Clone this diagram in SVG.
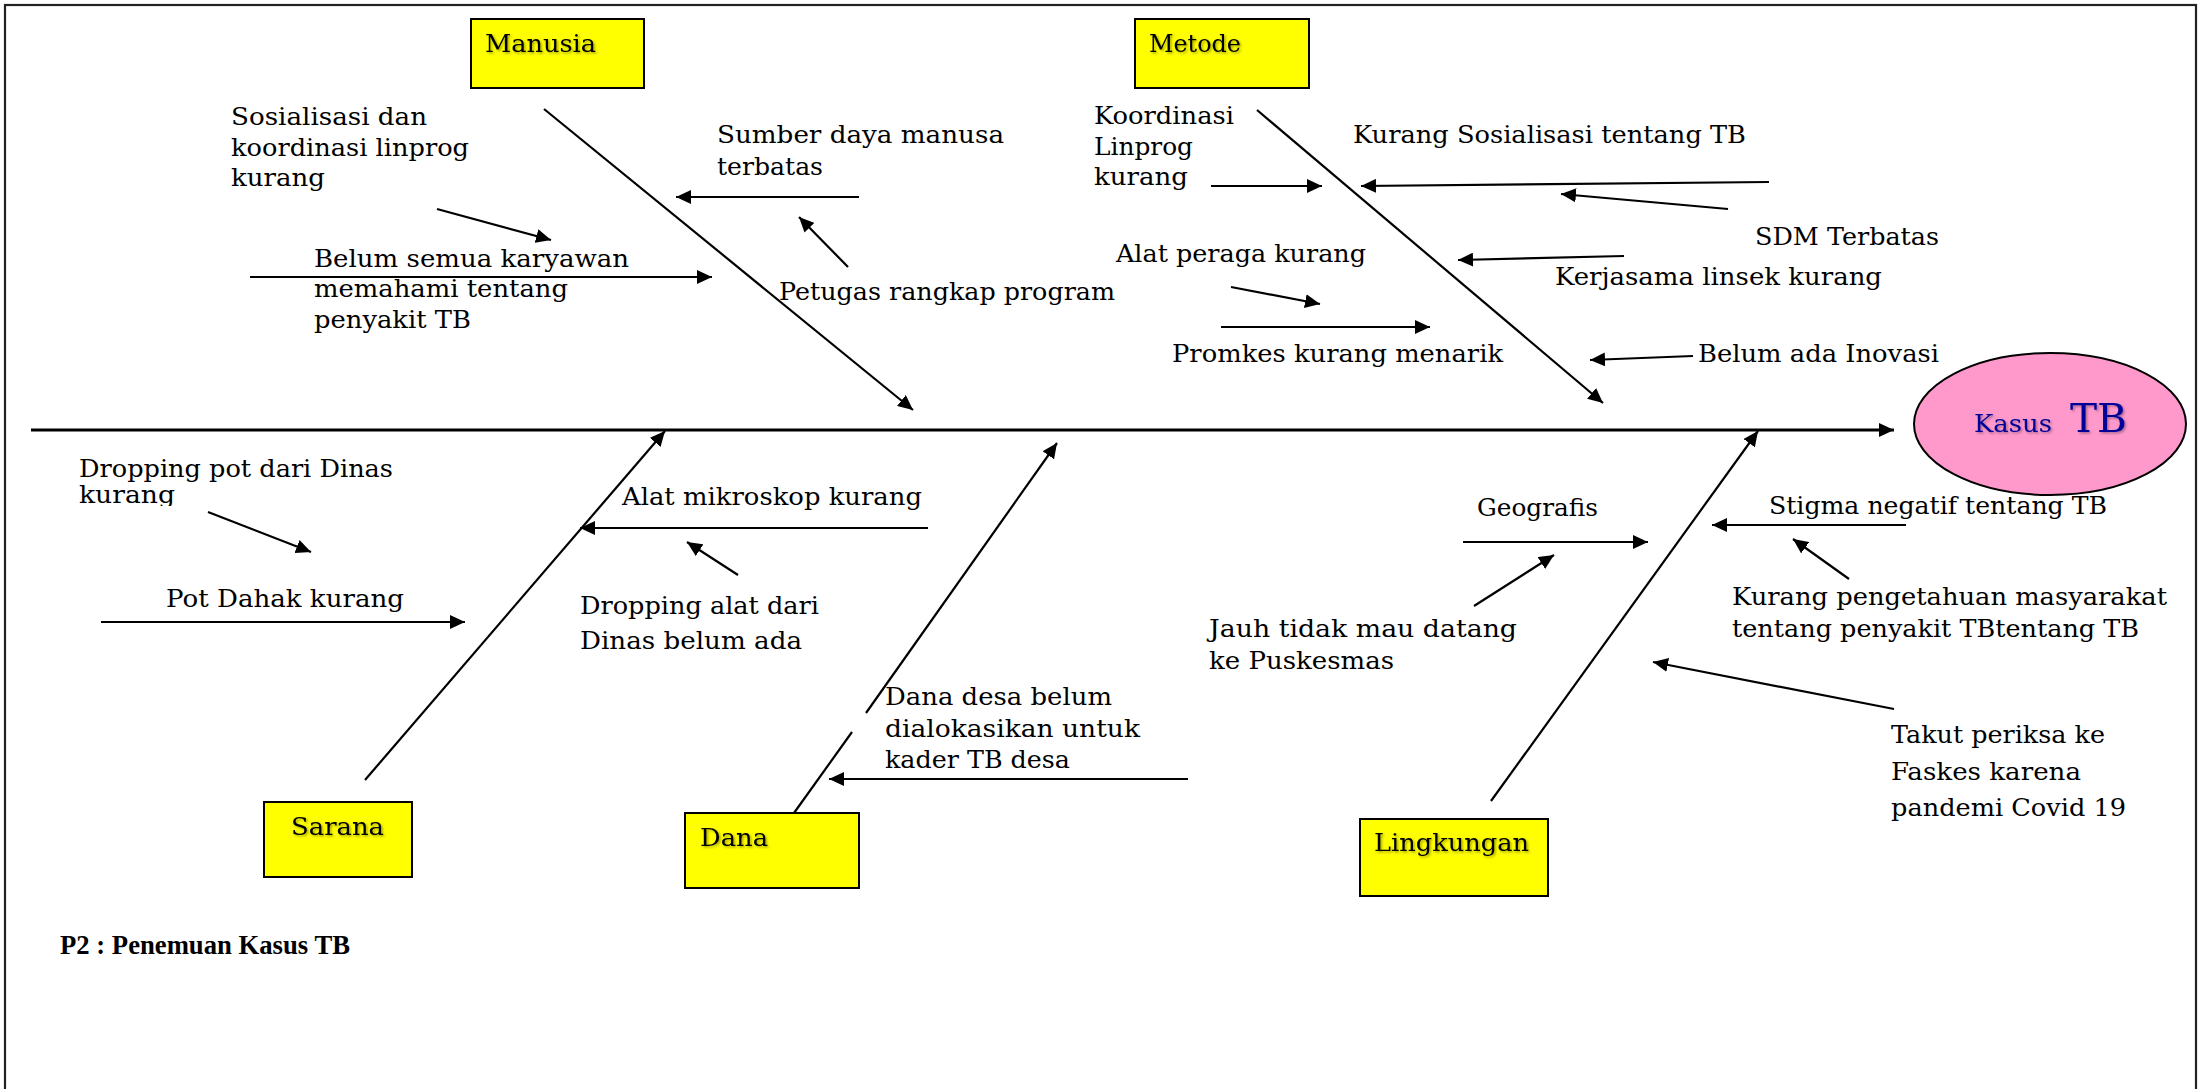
<svg xmlns="http://www.w3.org/2000/svg" width="2206" height="1089" viewBox="0 0 2206 1089">
<defs>
<style>
.t{font-family:"DejaVu Serif","Liberation Serif",serif;font-size:23.5px;fill:#000}
.lbl{font-family:"DejaVu Serif","Liberation Serif",serif;font-size:23.5px;fill:#000;filter:url(#sh)}
.box{fill:#FFFF00;stroke:#000;stroke-width:2}
.c{stroke:#000;stroke-width:2.2;fill:none}
.a{marker-end:url(#ah)}
.sp{stroke:#000;stroke-width:3;fill:none;marker-end:url(#ah)}
</style>
<marker id="ah" markerUnits="userSpaceOnUse" markerWidth="16" markerHeight="14" refX="15" refY="7" orient="auto">
<path d="M0,0 L15,7 L0,14 Z" fill="#000"/>
</marker>
<filter id="sh" x="-10%" y="-20%" width="130%" height="160%">
<feDropShadow dx="1.5" dy="1.5" stdDeviation="1" flood-color="#000" flood-opacity="0.35"/>
</filter>
<clipPath id="clipK"><rect x="60" y="480" width="200" height="26"/></clipPath>
</defs>
<rect x="0" y="0" width="2206" height="1089" fill="#fff"/>
<rect x="5" y="5" width="2191" height="1200" fill="none" stroke="#222" stroke-width="2.2"/>

<g id="connectors">
<line class="sp" x1="31" y1="430" x2="1894" y2="430"/>
<line class="c a" x1="544" y1="109" x2="913" y2="410"/>
<line class="c a" x1="1257" y1="110" x2="1603" y2="403"/>
<line class="c a" x1="365" y1="780" x2="665" y2="431"/>
<line class="c" x1="794" y1="813" x2="852" y2="732"/>
<line class="c a" x1="866" y1="713" x2="1057" y2="443"/>
<line class="c a" x1="1491" y1="801" x2="1758" y2="431"/>

<line class="c a" x1="859" y1="197" x2="676" y2="197"/>
<line class="c a" x1="848" y1="267" x2="799" y2="217"/>
<line class="c a" x1="437" y1="209" x2="551" y2="240"/>
<line class="c a" x1="250" y1="277" x2="712" y2="277"/>

<line class="c a" x1="1211" y1="186" x2="1322" y2="186"/>
<line class="c a" x1="1769" y1="182" x2="1361" y2="186"/>
<line class="c a" x1="1728" y1="209" x2="1561" y2="194"/>
<line class="c a" x1="1624" y1="256" x2="1458" y2="260"/>
<line class="c a" x1="1231" y1="287" x2="1320" y2="304"/>
<line class="c a" x1="1221" y1="327" x2="1430" y2="327"/>
<line class="c a" x1="1693" y1="356" x2="1590" y2="360"/>

<line class="c a" x1="208" y1="512" x2="311" y2="552"/>
<line class="c a" x1="101" y1="622" x2="465" y2="622"/>
<line class="c a" x1="928" y1="528" x2="580" y2="528"/>
<line class="c a" x1="738" y1="575" x2="687" y2="542"/>

<line class="c a" x1="1188" y1="779" x2="829" y2="779"/>

<line class="c a" x1="1463" y1="542" x2="1648" y2="542"/>
<line class="c a" x1="1474" y1="606" x2="1554" y2="555"/>
<line class="c a" x1="1906" y1="525" x2="1712" y2="525"/>
<line class="c a" x1="1849" y1="579" x2="1793" y2="539"/>
<line class="c a" x1="1894" y1="709" x2="1653" y2="662"/>
</g>

<g id="node-manusia">
<rect class="box" x="471" y="19" width="173" height="69"/>
<text class="lbl" x="485" y="52" textLength="111" lengthAdjust="spacingAndGlyphs">Manusia</text>
</g>
<g id="node-metode">
<rect class="box" x="1135" y="19" width="174" height="69"/>
<text class="lbl" x="1149" y="52" textLength="92" lengthAdjust="spacingAndGlyphs">Metode</text>
</g>
<g id="node-sarana">
<rect class="box" x="264" y="802" width="148" height="75"/>
<text class="lbl" x="291" y="835" textLength="93" lengthAdjust="spacingAndGlyphs">Sarana</text>
</g>
<g id="node-dana">
<rect class="box" x="685" y="813" width="174" height="75"/>
<text class="lbl" x="700" y="846" textLength="68" lengthAdjust="spacingAndGlyphs">Dana</text>
</g>
<g id="node-lingkungan">
<rect class="box" x="1360" y="819" width="188" height="77"/>
<text class="lbl" x="1374" y="851" textLength="155" lengthAdjust="spacingAndGlyphs">Lingkungan</text>
</g>
<g id="node-kasus-tb">
<ellipse cx="2050" cy="424" rx="136" ry="71" fill="#FF99CC" stroke="#000" stroke-width="2"/>
<text x="1974" y="432" font-family="DejaVu Serif, serif" font-size="23.5" fill="#000099" filter="url(#sh)" textLength="78" lengthAdjust="spacingAndGlyphs">Kasus</text>
<text x="2070" y="432" font-family="DejaVu Serif, serif" font-size="38.5" fill="#000099" filter="url(#sh)" textLength="57" lengthAdjust="spacingAndGlyphs">TB</text>
</g>

<g id="cause-labels">
<text class="t" x="231" y="125" textLength="196" lengthAdjust="spacingAndGlyphs">Sosialisasi dan</text>
<text class="t" x="231" y="156" textLength="238" lengthAdjust="spacingAndGlyphs">koordinasi linprog</text>
<text class="t" x="231" y="186" textLength="94" lengthAdjust="spacingAndGlyphs">kurang</text>
<text class="t" x="314" y="267" textLength="315" lengthAdjust="spacingAndGlyphs">Belum semua karyawan</text>
<text class="t" x="314" y="297" textLength="254" lengthAdjust="spacingAndGlyphs">memahami tentang</text>
<text class="t" x="314" y="328" textLength="157" lengthAdjust="spacingAndGlyphs">penyakit TB</text>
<text class="t" x="717" y="143" textLength="287" lengthAdjust="spacingAndGlyphs">Sumber daya manusa</text>
<text class="t" x="717" y="175" textLength="106" lengthAdjust="spacingAndGlyphs">terbatas</text>
<text class="t" x="779" y="300" textLength="336" lengthAdjust="spacingAndGlyphs">Petugas rangkap program</text>

<text class="t" x="1094" y="124" textLength="140" lengthAdjust="spacingAndGlyphs">Koordinasi</text>
<text class="t" x="1094" y="155" textLength="99" lengthAdjust="spacingAndGlyphs">Linprog</text>
<text class="t" x="1094" y="185" textLength="94" lengthAdjust="spacingAndGlyphs">kurang</text>
<text class="t" x="1353" y="143" textLength="393" lengthAdjust="spacingAndGlyphs">Kurang Sosialisasi tentang TB</text>
<text class="t" x="1755" y="245" textLength="184" lengthAdjust="spacingAndGlyphs">SDM Terbatas</text>
<text class="t" x="1555" y="285" textLength="327" lengthAdjust="spacingAndGlyphs">Kerjasama linsek kurang</text>
<text class="t" x="1116" y="262" textLength="250" lengthAdjust="spacingAndGlyphs">Alat peraga kurang</text>
<text class="t" x="1172" y="362" textLength="331" lengthAdjust="spacingAndGlyphs">Promkes kurang menarik</text>
<text class="t" x="1698" y="362" textLength="241" lengthAdjust="spacingAndGlyphs">Belum ada Inovasi</text>

<text class="t" x="79" y="477" textLength="314" lengthAdjust="spacingAndGlyphs">Dropping pot dari Dinas</text>
<text class="t" x="79" y="503" textLength="96" lengthAdjust="spacingAndGlyphs" clip-path="url(#clipK)">kurang</text>
<text class="t" x="166" y="607" textLength="238" lengthAdjust="spacingAndGlyphs">Pot Dahak kurang</text>
<text class="t" x="622" y="505" textLength="300" lengthAdjust="spacingAndGlyphs">Alat mikroskop kurang</text>
<text class="t" x="580" y="614" textLength="239" lengthAdjust="spacingAndGlyphs">Dropping alat dari</text>
<text class="t" x="580" y="649" textLength="222" lengthAdjust="spacingAndGlyphs">Dinas belum ada</text>

<text class="t" x="885" y="705" textLength="227" lengthAdjust="spacingAndGlyphs">Dana desa belum</text>
<text class="t" x="885" y="737" textLength="255" lengthAdjust="spacingAndGlyphs">dialokasikan untuk</text>
<text class="t" x="885" y="768" textLength="185" lengthAdjust="spacingAndGlyphs">kader TB desa</text>

<text class="t" x="1477" y="516" textLength="121" lengthAdjust="spacingAndGlyphs">Geografis</text>
<text class="t" x="1209" y="637" textLength="308" lengthAdjust="spacingAndGlyphs">Jauh tidak mau datang</text>
<text class="t" x="1209" y="669" textLength="185" lengthAdjust="spacingAndGlyphs">ke Puskesmas</text>
<text class="t" x="1769" y="514" textLength="338" lengthAdjust="spacingAndGlyphs">Stigma negatif tentang TB</text>
<text class="t" x="1732" y="605" textLength="435" lengthAdjust="spacingAndGlyphs">Kurang pengetahuan masyarakat</text>
<text class="t" x="1732" y="637" textLength="407" lengthAdjust="spacingAndGlyphs">tentang penyakit TBtentang TB</text>
<text class="t" x="1891" y="743" textLength="214" lengthAdjust="spacingAndGlyphs">Takut periksa ke</text>
<text class="t" x="1891" y="780" textLength="190" lengthAdjust="spacingAndGlyphs">Faskes karena</text>
<text class="t" x="1891" y="816" textLength="235" lengthAdjust="spacingAndGlyphs">pandemi Covid 19</text>
</g>

<text id="caption" x="60" y="954" font-family="Liberation Serif, serif" font-size="26.5" font-weight="bold" fill="#000" textLength="290" lengthAdjust="spacingAndGlyphs">P2 : Penemuan Kasus TB</text>
</svg>
